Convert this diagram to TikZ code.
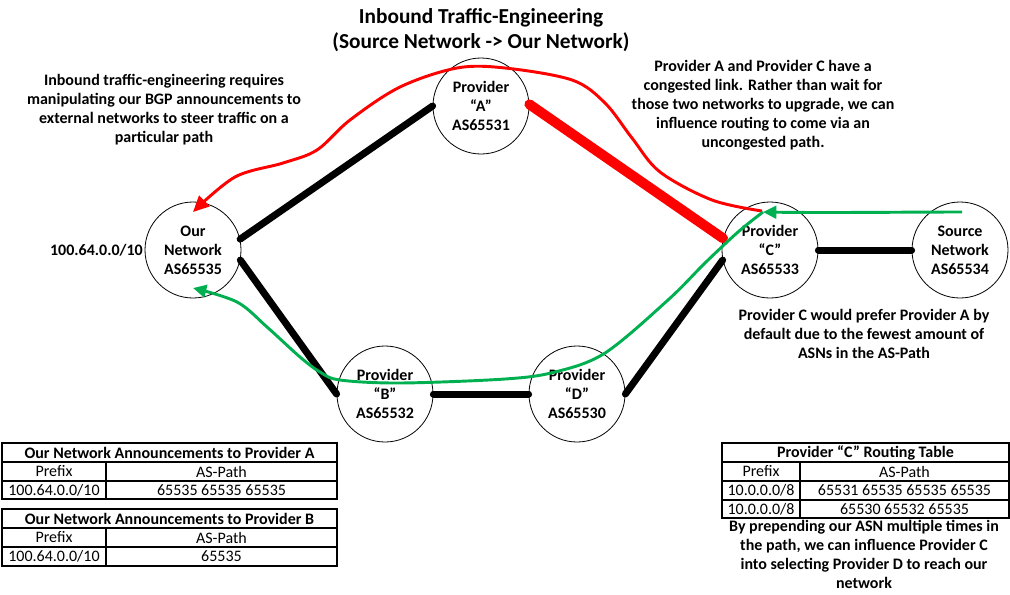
\documentclass[tikz,border=0pt]{standalone}
\usepackage{fontspec}
\setmainfont{Carlito}
\usetikzlibrary{arrows.meta}
\definecolor{offgreen}{HTML}{00B050}
\definecolor{offred}{HTML}{FF0000}
\begin{document}
\begin{tikzpicture}[x=0.75pt,y=-0.75pt,
  txt/.style={font=\fontsize{12}{14.25}\selectfont\bfseries, align=center, inner sep=0pt},
  ttl/.style={font=\fontsize{16}{18.75}\selectfont\bfseries, align=center, inner sep=0pt},
  as/.style={circle, draw, line width=0.6pt, minimum size=72pt, inner sep=0pt,
     font=\fontsize{12}{14.25}\selectfont\bfseries, align=center},
  link/.style={line width=5.25pt, line cap=round},
  hot/.style={line width=7.5pt, line cap=round, draw=offred},
  flowred/.style={line width=2.2pt, draw=offred, -{Triangle[length=12pt,width=11pt]}},
  flowgreen/.style={line width=2.2pt, draw=offgreen, -{Triangle[length=10pt,width=9.5pt]}},
  cell/.style={inner sep=0pt, font=\fontsize{12}{14.25}\selectfont},
  hcell/.style={inner sep=0pt, font=\fontsize{12}{14.25}\selectfont\bfseries},
  grid/.style={line width=0.9pt}]
\useasboundingbox (0,0) rectangle (1010,594);

% title
\node[ttl] (title) at (481,30) {Inbound Traffic-Engineering\\(Source Network -> Our Network)};

% circles
\node[as] (our) at (193,250) {Our\\Network\\AS65535};
\node[as] (pa) at (481,106) {Provider\\“A”\\AS65531};
\node[as] (pc) at (770,250) {Provider\\“C”\\AS65533};
\node[as] (src) at (960,250) {Source\\Network\\AS65534};
\node[as] (pb) at (385,394) {Provider\\“B”\\AS65532};
\node[as] (pd) at (577,394) {Provider\\“D”\\AS65530};

\node[txt, anchor=east] (pfx) at (143,250) {100.64.0.0/10};

% links
\draw[link] (our.13) -- (pa.180);
\draw[link] (our.-12) -- (pb.180);
\draw[link] (pb.0) -- (pd.180);
\draw[link] (pd.0) -- (pc.192);
\draw[link] (pc.0) -- (src.180);
\draw[hot] (pa.2) -- (pc.166);

% texts
\node[txt] (t1) at (164,110) {Inbound traffic-engineering requires\\manipulating our BGP announcements to\\external networks to steer traffic on a\\particular path};
\node[txt] (t2) at (763,105) {Provider A and Provider C have a\\congested link. Rather than wait for\\those two networks to upgrade, we can\\influence routing to come via an\\uncongested path.};
\node[txt] (t3) at (864,334) {Provider C would prefer Provider A by\\default due to the fewest amount of\\ASNs in the AS-Path};
\node[txt] (t4) at (864,554) {By prepending our ASN multiple times in\\the path, we can influence Provider C\\into selecting Provider D to reach our\\network};

% flows
\coordinate (rs) at (762,211);
\coordinate (re) at (193,212);
\draw[flowred] plot[smooth, tension=0.55] coordinates {(rs) (712,200) (660,172) (632,138) (605,103) (572,80) (505,68) (457,68) (400,87) (350,120) (317,150) (283,163) (235,177) (re)};
\coordinate (gs) at (962,212);
\coordinate (gm) at (763,212);
\coordinate (ge) at (193,288);
\draw[flowgreen] (gs) .. controls (900,212) and (830,213) .. (gm);
\draw[flowgreen] plot[smooth, tension=0.55] coordinates {(gm) (738,232) (705,263) (668,300) (605,353) (555,372) (505,379) (400,383) (340,380) (320,372) (300,357) (267,327) (237,302) (ge)};

% table A
\node[hcell] (tah) at (169.5,452.5) {Our Network Announcements to Provider A};
\node[cell] (ta1) at (54,471.5) {Prefix};
\node[cell] (ta2) at (221.5,471.5) {AS-Path};
\node[cell] (ta3) at (54,490) {100.64.0.0/10};
\node[cell] (ta4) at (221.5,490) {65535 65535 65535};
\draw[grid] (2,443) rectangle (337,499);
\draw[grid] (2,462) -- (337,462) (2,481) -- (337,481) (106,462) -- (106,499);

% table B
\node[hcell] (tbh) at (169.5,518.5) {Our Network Announcements to Provider B};
\node[cell] (tb1) at (54,537.5) {Prefix};
\node[cell] (tb2) at (221.5,537.5) {AS-Path};
\node[cell] (tb3) at (54,556.5) {100.64.0.0/10};
\node[cell] (tb4) at (221.5,556.5) {65535};
\draw[grid] (2,509) rectangle (337,566);
\draw[grid] (2,528) -- (337,528) (2,547) -- (337,547) (106,528) -- (106,566);

% table C
\node[hcell] (tch) at (865.5,452.5) {Provider “C” Routing Table};
\node[cell] (tc1) at (761,471.5) {Prefix};
\node[cell] (tc2) at (904.5,471.5) {AS-Path};
\node[cell] (tc3) at (761,490.5) {10.0.0.0/8};
\node[cell] (tc4) at (904.5,490.5) {65531 65535 65535 65535};
\node[cell] (tc5) at (761,509) {10.0.0.0/8};
\node[cell] (tc6) at (904.5,509) {65530 65532 65535};
\draw[grid] (722,443) rectangle (1009,518);
\draw[grid] (722,462) -- (1009,462) (722,481) -- (1009,481) (722,500) -- (1009,500) (800,462) -- (800,518);
\end{tikzpicture}
\end{document}
